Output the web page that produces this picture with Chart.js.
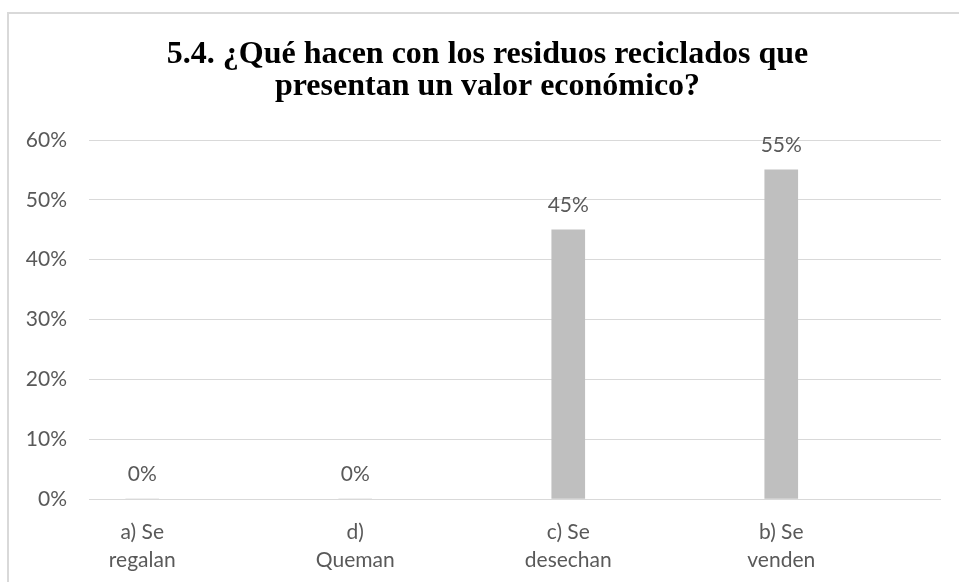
<!DOCTYPE html>
<html>
<head>
<meta charset="utf-8">
<script src="https://cdn.jsdelivr.net/npm/chart.js@4/dist/chart.umd.min.js"></script>
<style>
  html, body { margin: 0; padding: 0; background: #fff; }
  #wrap { position: relative; width: 959px; height: 582px; }
</style>
</head>
<body>
<div id="wrap"><canvas id="chart" width="959" height="582"></canvas></div>
<script>
// Answers to question 5.4 (share of respondents)
const categories = [["a) Se", "regalan"], ["d)", "Queman"], ["c) Se", "desechan"], ["b) Se", "venden"]];
const values = [0, 0, 45, 55];
const yTicks = [0, 10, 20, 30, 40, 50, 60];
const titleLines = ["5.4. ¿Qué hacen con los residuos reciclados que", "presentan un valor económico?"];

const textColor = "#595959";
const labelFont = "21px Lato";

// light frame around the whole chart
const framePlugin = {
  id: "frame",
  beforeDraw(chart) {
    const ctx = chart.ctx;
    ctx.save();
    ctx.fillStyle = "#fff";
    ctx.fillRect(0, 0, chart.width, chart.height);
    ctx.strokeStyle = "#d9d9d9";
    ctx.lineWidth = 2;
    ctx.strokeRect(8, 13, 1200, 1200);
    ctx.restore();
  }
};

// nudge the title box so the text sits centred over the framed area
const titleShift = {
  id: "titleShift",
  afterLayout(chart) {
    if (chart.titleBlock) chart.titleBlock.left += 34;
  }
};

// percentage printed above each bar
const valueLabels = {
  id: "valueLabels",
  afterDatasetsDraw(chart) {
    const ctx = chart.ctx;
    const meta = chart.getDatasetMeta(0);
    ctx.save();
    ctx.font = labelFont;
    ctx.fillStyle = textColor;
    ctx.textAlign = "center";
    ctx.textBaseline = "middle";
    meta.data.forEach((bar, i) => {
      ctx.fillText(values[i] + "%", bar.x, bar.y - 25);
    });
    ctx.restore();
  }
};

const ctx = document.getElementById("chart").getContext("2d");

new Chart(ctx, {
  type: "bar",
  data: {
    datasets: [{
      data: values.map((v, i) => ({ x: i, y: v })),
      backgroundColor: "#bfbfbf",
      barThickness: 33
    }]
  },
  options: {
    responsive: false,
    animation: false,
    layout: { padding: { left: 0, right: 18, top: 0, bottom: 0 } },
    plugins: {
      legend: { display: false },
      tooltip: { enabled: false },
      title: {
        display: true,
        text: titleLines,
        color: "#000",
        font: { family: "'Liberation Serif', 'Times New Roman', serif", size: 32, weight: "bold", lineHeight: 1.0 },
        padding: { top: 39, bottom: 37 }
      }
    },
    scales: {
      x: {
        type: "linear",
        min: -0.25,
        max: 3.75,
        offset: false,
        grid: { display: false },
        border: { display: false },
        afterBuildTicks(scale) { scale.ticks = categories.map((c, i) => ({ value: i })); },
        ticks: {
          autoSkip: false,
          maxRotation: 0,
          padding: 11,
          color: textColor,
          font: { family: "Lato", size: 21, lineHeight: 1.33 },
          callback: (v) => categories[v] || ""
        },
        afterFit(scale) { scale.height = 83; }
      },
      y: {
        min: 0,
        max: 60,
        grid: { color: "#d9d9d9", lineWidth: 1, drawTicks: false },
        border: { display: false },
        afterBuildTicks(scale) { scale.ticks = yTicks.map(v => ({ value: v })); },
        ticks: {
          padding: 22,
          color: textColor,
          font: { family: "Lato", size: 21 },
          callback: (v) => v + "%"
        },
        afterFit(scale) { scale.width = 89; }
      }
    }
  },
  plugins: [framePlugin, titleShift, valueLabels]
});
</script>
</body>
</html>
